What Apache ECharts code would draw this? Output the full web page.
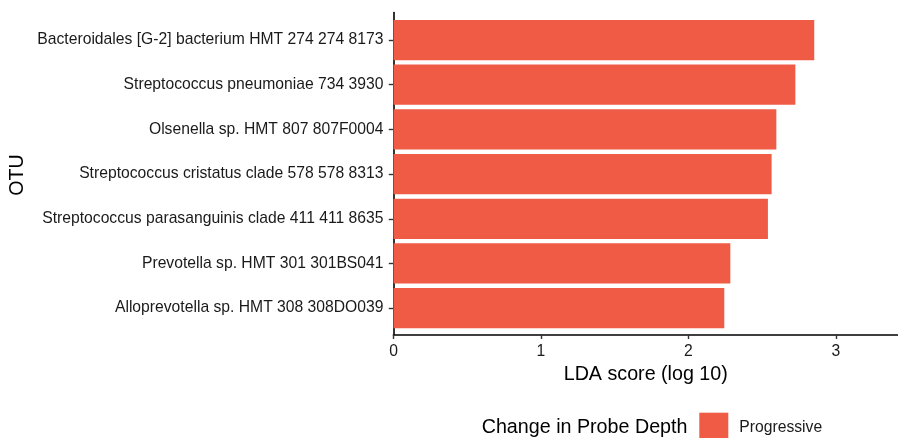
<!DOCTYPE html>
<html>
<head>
<meta charset="utf-8">
<title>LDA score by OTU</title>
<script src="https://cdn.jsdelivr.net/npm/echarts@6/dist/echarts.min.js"></script>
<style>
  html, body { margin: 0; padding: 0; background: #ffffff; }
  #chart { width: 898px; height: 438px; }
</style>
</head>
<body>
<div id="chart"></div>
<script>
// OTUs, top to bottom
const otus = [
  'Bacteroidales [G-2] bacterium HMT 274 274 8173',
  'Streptococcus pneumoniae 734 3930',
  'Olsenella sp. HMT 807 807F0004',
  'Streptococcus cristatus clade 578 578 8313',
  'Streptococcus parasanguinis clade 411 411 8635',
  'Prevotella sp. HMT 301 301BS041',
  'Alloprevotella sp. HMT 308 308DO039'
];
// LDA score (log 10) for the "Progressive" group
const ldaScores = [2.853, 2.725, 2.596, 2.564, 2.539, 2.284, 2.243];
const xTicks = [0, 1, 2, 3];
const groupName = 'Progressive';
const legendTitle = 'Change in Probe Depth';
const xTitle = 'LDA score (log 10)';
const yTitle = 'OTU';

const FONT = "'Liberation Sans', Arial, Helvetica, sans-serif";
const BAR_COLOR = '#EF5B45';
const X_MAX = 3.421;

const chart = echarts.init(document.getElementById('chart'), null, { renderer: 'canvas' });

const option = {
  animation: false,
  backgroundColor: '#ffffff',
  textStyle: { fontFamily: FONT },
  grid: [
    // bar panel (category bands)
    { left: 393.5, right: 0, top: 17.7, bottom: 107.5, containLabel: false },
    // outer panel carrying the axis lines
    { left: 393.5, right: 0, top: 12.5, bottom: 103.5, containLabel: false }
  ],
  xAxis: [
    {
      gridIndex: 0, type: 'value', min: 0, max: X_MAX,
      show: false
    },
    {
      gridIndex: 1, type: 'value', min: 0, max: X_MAX, interval: 1,
      axisLine: { show: true, lineStyle: { color: '#000000', width: 1.6 } },
      axisTick: { show: true, length: 4.5, lineStyle: { color: '#333333', width: 1.4 }, customValues: xTicks },
      axisLabel: {
        show: true, margin: 9, color: '#1a1a1a', fontSize: 15.7, fontFamily: FONT,
        customValues: xTicks
      },
      splitLine: { show: false },
      name: xTitle, nameLocation: 'middle', nameGap: 27,
      nameTextStyle: { color: '#000000', fontSize: 19.7, fontFamily: FONT }
    }
  ],
  yAxis: [
    {
      gridIndex: 0, type: 'category', data: otus, inverse: true,
      axisLine: { show: false },
      axisTick: { show: true, length: 4.7, alignWithLabel: true, lineStyle: { color: '#333333', width: 1.4 } },
      axisLabel: {
        show: true, margin: 10, color: '#1a1a1a', fontSize: 15.7, fontFamily: FONT,
        padding: [4, 0, 0, 0]
      },
      splitLine: { show: false }
    },
    {
      gridIndex: 1, type: 'value', min: 0, max: 1,
      axisLine: { show: true, lineStyle: { color: '#000000', width: 1.6 } },
      axisTick: { show: false },
      axisLabel: { show: false },
      splitLine: { show: false }
    }
  ],
  legend: {
    show: true,
    left: 699.3,
    top: 412.7,
    padding: 0,
    itemWidth: 29,
    itemHeight: 29,
    icon: 'rect',
    data: [groupName],
    textStyle: { color: '#1a1a1a', fontSize: 15.7, fontFamily: FONT, padding: [2, 0, 0, 6] },
    selectedMode: false
  },
  graphic: [
    {
      type: 'text', x: 18, y: 175, rotation: Math.PI / 2,
      style: {
        text: yTitle, fill: '#000000', fontSize: 19.7, fontFamily: FONT,
        align: 'center', verticalAlign: 'middle'
      }
    },
    {
      type: 'text', x: 481.7, y: 428,
      style: {
        text: legendTitle, fill: '#000000', fontSize: 19.7, fontFamily: FONT,
        align: 'left', verticalAlign: 'middle'
      }
    }
  ],
  series: [
    {
      name: groupName,
      type: 'bar',
      xAxisIndex: 0,
      yAxisIndex: 0,
      data: ldaScores,
      barWidth: '90%',
      itemStyle: { color: BAR_COLOR },
      silent: true
    }
  ]
};

chart.setOption(option);
</script>
</body>
</html>
